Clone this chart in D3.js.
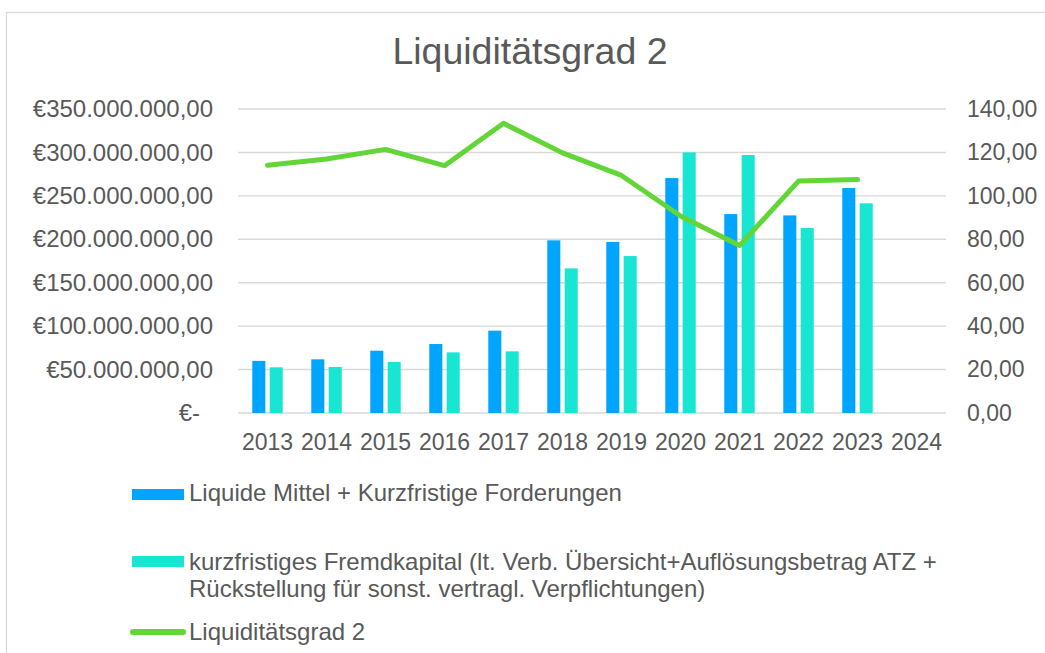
<!DOCTYPE html>
<html>
<head>
<meta charset="utf-8">
<script src="https://cdn.jsdelivr.net/npm/d3@7"></script>
<style>
  body { margin: 0; background: #fff; }
  svg { display: block; font-family: "Liberation Sans", Arial, sans-serif; }
</style>
</head>
<body>
<svg width="1045" height="653"></svg>
<script>
// Data
var years = ["2013", "2014", "2015", "2016", "2017", "2018", "2019", "2020", "2021", "2022", "2023", "2024"];
// Liquide Mittel + Kurzfristige Forderungen (EUR)
var liquide = [60.0e6, 61.8e6, 71.7e6, 79.4e6, 94.8e6, 198.8e6, 196.9e6, 270.5e6, 229.0e6, 227.5e6, 259.0e6, null];
// kurzfristiges Fremdkapital (EUR)
var fremd = [52.6e6, 53.0e6, 58.7e6, 69.8e6, 71.0e6, 166.5e6, 180.7e6, 300.0e6, 297.0e6, 213.0e6, 241.4e6, null];
// Liquiditätsgrad 2 (%)
var grad = [114.1, 117.0, 121.4, 113.9, 133.4, 119.8, 109.4, 90.7, 77.1, 106.8, 107.5, null];

var leftTicks = [0, 50e6, 100e6, 150e6, 200e6, 250e6, 300e6, 350e6];
var rightTicks = [0, 20, 40, 60, 80, 100, 120, 140];

var seriesNames = [
    "Liquide Mittel + Kurzfristige Forderungen",
    ["kurzfristiges Fremdkapital (lt. Verb. Übersicht+Auflösungsbetrag ATZ +", "Rückstellung für sonst. vertragl. Verpflichtungen)"],
    "Liquiditätsgrad 2"
];
var colors = { blue: "#00a5ff", teal: "#18e6d2", green: "#62d636" };
var textColor = "#595959";
var gridColor = "#d9d9d9";

var svg = d3.select("svg");
var plot = { left: 238, right: 946, top: 109, bottom: 413 };

var de = d3.formatLocale({ decimal: ",", thousands: ".", grouping: [3], currency: ["€", ""] });
var fmtEuro = de.format("$,.2f");
var fmtNum = de.format(",.2f");

// chart border
svg.append("rect")
    .attr("x", 6.5).attr("y", 12.5)
    .attr("width", 1060).attr("height", 660)
    .attr("fill", "#fff").attr("stroke", gridColor).attr("stroke-width", 1.3);

// Scales
var x = d3.scaleBand().domain(years).range([plot.left, plot.right]).padding(0);
var bw = x.bandwidth();
var xInner = d3.scaleBand().domain(["liquide", "fremd"])
    .range([bw * 0.242, bw * 0.758]).paddingInner(0.25).paddingOuter(0);
var yLeft = d3.scaleLinear().domain([0, 350e6]).range([plot.bottom, plot.top]);
var yRight = d3.scaleLinear().domain([0, 140]).range([plot.bottom, plot.top]);

// Title
svg.append("text")
    .attr("x", 530).attr("y", 64)
    .attr("text-anchor", "middle")
    .attr("font-size", 37.5)
    .attr("fill", textColor)
    .text("Liquiditätsgrad 2");

// Gridlines
svg.append("g").selectAll("line").data(leftTicks).join("line")
    .attr("x1", plot.left).attr("x2", plot.right)
    .attr("y1", d => yLeft(d)).attr("y2", d => yLeft(d))
    .attr("stroke", gridColor).attr("stroke-width", 1.4);

// Left axis
var gl = svg.append("g")
    .attr("transform", `translate(${plot.left - 25},0)`)
    .call(d3.axisLeft(yLeft).tickValues(leftTicks).tickSize(0).tickPadding(0)
        .tickFormat(d => d === 0 ? "€-" : fmtEuro(d)));
gl.select(".domain").remove();
gl.selectAll("text").attr("font-size", 24).attr("fill", textColor)
    .attr("font-family", "Liberation Sans, Arial, sans-serif")
    .attr("dx", d => d === 0 ? -13 : 0);

// Right axis
var gr = svg.append("g")
    .attr("transform", `translate(${plot.right + 21},0)`)
    .call(d3.axisRight(yRight).tickValues(rightTicks).tickSize(0).tickPadding(0)
        .tickFormat(d => fmtNum(d)));
gr.select(".domain").remove();
gr.selectAll("text").attr("font-size", 23).attr("fill", textColor)
    .attr("font-family", "Liberation Sans, Arial, sans-serif");

// Bottom axis
var gb = svg.append("g")
    .attr("transform", `translate(0,${plot.bottom})`)
    .call(d3.axisBottom(x).tickSize(0).tickPadding(0));
gb.select(".domain").remove();
gb.selectAll("text").attr("font-size", 23).attr("fill", textColor)
    .attr("font-family", "Liberation Sans, Arial, sans-serif")
    .attr("dy", null).attr("y", 37);

// Bars
var barData = [];
years.forEach(function (yr, i) {
    if (liquide[i] != null) barData.push({ year: yr, key: "liquide", value: liquide[i], color: colors.blue });
    if (fremd[i] != null) barData.push({ year: yr, key: "fremd", value: fremd[i], color: colors.teal });
});
svg.append("g").selectAll("rect").data(barData).join("rect")
    .attr("x", d => x(d.year) + xInner(d.key))
    .attr("width", xInner.bandwidth())
    .attr("y", d => yLeft(d.value))
    .attr("height", d => yLeft(0) - yLeft(d.value))
    .attr("fill", d => d.color);

// Line (secondary axis)
var lineData = years.map((yr, i) => ({ year: yr, value: grad[i] })).filter(d => d.value != null);
var line = d3.line()
    .x(d => x(d.year) + bw / 2)
    .y(d => yRight(d.value));
svg.append("path")
    .datum(lineData)
    .attr("d", line)
    .attr("fill", "none")
    .attr("stroke", colors.green)
    .attr("stroke-width", 5)
    .attr("stroke-linejoin", "round")
    .attr("stroke-linecap", "round");

// Legend
var legend = svg.append("g").attr("font-size", 24).attr("fill", textColor);
var lx = 189;

legend.append("rect").attr("x", 132).attr("y", 489).attr("width", 52).attr("height", 11).attr("fill", colors.blue);
legend.append("text").attr("x", lx).attr("y", 501).text(seriesNames[0]);

legend.append("rect").attr("x", 132).attr("y", 556).attr("width", 52).attr("height", 11).attr("fill", colors.teal);
legend.append("text").attr("x", lx).attr("y", 570)
    .selectAll("tspan").data(seriesNames[1]).join("tspan")
    .attr("x", lx).attr("dy", (d, i) => i === 0 ? 0 : 27)
    .text(d => d);

legend.append("line").attr("x1", 133).attr("x2", 183).attr("y1", 632).attr("y2", 632)
    .attr("stroke", colors.green).attr("stroke-width", 6).attr("stroke-linecap", "round");
legend.append("text").attr("x", lx).attr("y", 640).text(seriesNames[2]);
</script>
</body>
</html>
